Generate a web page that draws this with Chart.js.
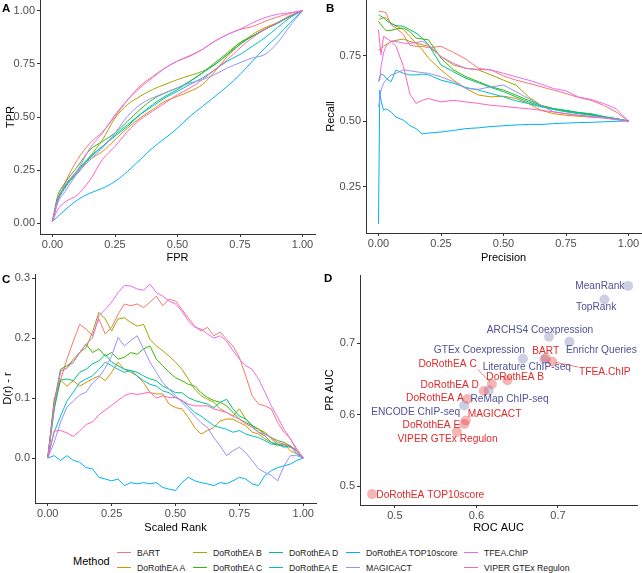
<!DOCTYPE html>
<html>
<head>
<meta charset="utf-8">
<script src="https://cdn.jsdelivr.net/npm/chart.js@4.4.1/dist/chart.umd.min.js"></script>
<style>
html,body{margin:0;padding:0;background:#fff;width:642px;height:573px;overflow:hidden;font-family:"Liberation Sans",Arial,sans-serif;}
.panel{position:absolute;width:321px;height:270px;}
.panel canvas{position:absolute;left:0;top:0;}
.tag{position:absolute;font-weight:bold;font-size:11.5px;line-height:12px;color:#000;}
.lg{position:absolute;font-size:8.7px;line-height:10px;color:#1a1a1a;white-space:nowrap;}
.lgline{position:absolute;height:0;width:14px;border-top:1px solid;}
</style>
</head>
<body>
<div class="panel" style="left:0;top:0"><canvas id="cA" width="321" height="270"></canvas></div>
<div class="panel" style="left:321px;top:0"><canvas id="cB" width="321" height="270"></canvas></div>
<div class="panel" style="left:0;top:270px"><canvas id="cC" width="321" height="270"></canvas></div>
<div class="panel" style="left:321px;top:270px"><canvas id="cD" width="321" height="270"></canvas></div>
<div class="tag" style="left:2px;top:2px">A</div>
<div class="tag" style="left:326px;top:2px">B</div>
<div class="tag" style="left:2px;top:273px">C</div>
<div class="tag" style="left:324px;top:272px">D</div>
<div id="legend"></div>
<script>
// ---------- series ----------
const seriesNames = ['BART','DoRothEA A','DoRothEA B','DoRothEA C','DoRothEA D','DoRothEA E','DoRothEA TOP10score','MAGICACT','TFEA.ChIP','VIPER GTEx Regulon'];
const seriesColors = ['#F8766D','#D89000','#A3A500','#39B600','#00BF7D','#00BFC4','#00B0F6','#9590FF','#E76BF3','#FF62BC'];

// ---------- panel A: ROC ----------
const rocFpr = [0,0.02,0.05,0.1,0.15,0.2,0.25,0.3,0.35,0.4,0.45,0.5,0.55,0.6,0.65,0.7,0.75,0.8,0.85,0.9,0.95,1.0];
const rocTpr = [
 [0.01,0.10,0.19,0.30,0.377,0.43,0.503,0.58,0.645,0.69,0.73,0.763,0.789,0.818,0.857,0.888,0.912,0.925,0.95,0.97,0.987,1.0],
 [0.01,0.11,0.173,0.236,0.299,0.338,0.393,0.448,0.495,0.535,0.574,0.597,0.621,0.653,0.715,0.786,0.841,0.888,0.92,0.943,0.975,1.0],
 [0.01,0.11,0.173,0.236,0.314,0.393,0.495,0.558,0.597,0.629,0.653,0.676,0.695,0.715,0.747,0.794,0.849,0.88,0.912,0.943,0.975,1.0],
 [0.01,0.126,0.19,0.267,0.346,0.385,0.425,0.48,0.535,0.582,0.613,0.637,0.668,0.708,0.755,0.802,0.849,0.88,0.912,0.943,0.975,1.0],
 [0.01,0.11,0.173,0.25,0.314,0.362,0.41,0.456,0.511,0.558,0.597,0.629,0.668,0.708,0.747,0.794,0.841,0.88,0.912,0.94,0.972,1.0],
 [0.01,0.10,0.165,0.244,0.307,0.362,0.417,0.464,0.511,0.55,0.59,0.621,0.653,0.684,0.723,0.763,0.794,0.833,0.873,0.92,0.967,1.0],
 [0.01,0.031,0.063,0.11,0.142,0.165,0.197,0.244,0.299,0.354,0.40,0.448,0.503,0.55,0.597,0.645,0.70,0.763,0.825,0.88,0.943,1.0],
 [0.01,0.094,0.149,0.236,0.299,0.354,0.425,0.503,0.558,0.59,0.613,0.637,0.66,0.676,0.70,0.731,0.755,0.778,0.794,0.849,0.928,1.0],
 [0.01,0.11,0.18,0.25,0.354,0.425,0.51,0.58,0.637,0.684,0.73,0.763,0.786,0.818,0.857,0.888,0.912,0.943,0.967,0.983,0.99,1.0],
 [0.01,0.063,0.10,0.134,0.204,0.30,0.362,0.432,0.487,0.527,0.566,0.605,0.637,0.676,0.723,0.77,0.825,0.873,0.912,0.943,0.975,1.0]
];
const aTicks = [0,0.25,0.5,0.75,1.0];
const aTickLabels = ['0.00','0.25','0.50','0.75','1.00'];

// ---------- panel B: precision / recall ----------
const prPrecision = [0,0.005,0.01,0.02,0.03,0.05,0.07,0.1,0.125,0.15,0.175,0.2,0.25,0.3,0.35,0.4,0.45,0.5,0.55,0.6,0.65,0.7,0.75,0.8,0.85,0.9,0.95,1.0];
const prRecall = [
 [0.919,0.919,0.917,0.917,0.913,0.868,0.855,0.83,0.79,0.785,0.785,0.78,0.785,0.762,0.736,0.701,0.695,0.672,0.656,0.644,0.631,0.618,0.605,0.59,0.579,0.56,0.535,0.5],
 [0.887,0.89,0.89,0.894,0.894,0.874,0.862,0.849,0.823,0.797,0.772,0.74,0.695,0.656,0.624,0.599,0.592,0.595,0.586,0.567,0.541,0.528,0.522,0.518,0.515,0.512,0.506,0.5],
 [0.772,0.772,0.778,0.785,0.791,0.804,0.808,0.813,0.804,0.797,0.791,0.785,0.746,0.714,0.701,0.695,0.676,0.656,0.637,0.592,0.56,0.547,0.538,0.531,0.526,0.515,0.509,0.5],
 [0.881,0.874,0.868,0.855,0.846,0.846,0.851,0.855,0.842,0.817,0.813,0.81,0.74,0.695,0.669,0.65,0.631,0.618,0.599,0.579,0.56,0.547,0.538,0.531,0.524,0.515,0.509,0.5],
 [0.906,0.903,0.9,0.894,0.885,0.872,0.864,0.862,0.849,0.836,0.817,0.791,0.714,0.688,0.663,0.646,0.628,0.612,0.592,0.573,0.556,0.547,0.541,0.533,0.528,0.518,0.509,0.5],
 [0.65,0.669,0.679,0.676,0.663,0.65,0.695,0.682,0.676,0.676,0.679,0.676,0.656,0.644,0.628,0.618,0.605,0.592,0.577,0.567,0.554,0.544,0.535,0.528,0.522,0.515,0.509,0.5],
 [0.108,0.618,0.579,0.541,0.547,0.535,0.515,0.503,0.483,0.471,0.451,0.454,0.458,0.464,0.471,0.474,0.479,0.482,0.485,0.487,0.487,0.49,0.492,0.494,0.495,0.497,0.499,0.5],
 [0.554,0.579,0.618,0.644,0.656,0.676,0.682,0.695,0.692,0.688,0.685,0.682,0.669,0.65,0.624,0.621,0.631,0.637,0.612,0.586,0.56,0.535,0.528,0.522,0.515,0.512,0.506,0.5],
 [0.656,0.656,0.708,0.76,0.785,0.804,0.804,0.797,0.797,0.8,0.804,0.79,0.746,0.72,0.701,0.697,0.695,0.682,0.669,0.656,0.641,0.624,0.615,0.592,0.582,0.567,0.547,0.5],
 [0.849,0.797,0.753,0.823,0.817,0.804,0.785,0.708,0.605,0.567,0.579,0.586,0.573,0.579,0.573,0.567,0.56,0.556,0.551,0.547,0.541,0.535,0.528,0.522,0.518,0.513,0.506,0.5]
];
const bXTicks = [0,0.25,0.5,0.75,1.0];
const bXTickLabels = ['0.00','0.25','0.50','0.75','1.00'];
const bYTicks = [0.25,0.5,0.75];
const bYTickLabels = ['0.25','0.50','0.75'];

// ---------- panel C: D(r) - r ----------
const cRank = [0,0.025,0.05,0.075,0.1,0.125,0.15,0.175,0.2,0.225,0.25,0.275,0.3,0.325,0.35,0.375,0.4,0.425,0.45,0.475,0.5,0.525,0.55,0.575,0.6,0.625,0.65,0.675,0.7,0.725,0.75,0.775,0.8,0.825,0.85,0.875,0.9,0.925,0.95,0.975,1.0];
const cDev = [
 [0,0.098,0.13,0.165,0.195,0.223,0.215,0.204,0.232,0.207,0.218,0.24,0.257,0.254,0.257,0.251,0.26,0.27,0.254,0.265,0.262,0.248,0.234,0.22,0.212,0.218,0.204,0.21,0.198,0.187,0.168,0.137,0.104,0.09,0.087,0.082,0.059,0.043,0.032,0.015,0],
 [0,0.093,0.13,0.12,0.129,0.12,0.126,0.132,0.137,0.129,0.143,0.16,0.148,0.143,0.137,0.126,0.109,0.107,0.107,0.09,0.084,0.082,0.068,0.051,0.04,0.046,0.051,0.062,0.065,0.065,0.059,0.054,0.043,0.04,0.032,0.026,0.02,0.023,0.012,0.007,0],
 [0,0.08,0.145,0.15,0.165,0.176,0.184,0.21,0.243,0.232,0.212,0.232,0.234,0.226,0.22,0.223,0.198,0.187,0.179,0.17,0.16,0.148,0.132,0.115,0.104,0.098,0.093,0.082,0.076,0.07,0.082,0.065,0.054,0.048,0.043,0.032,0.023,0.023,0.02,0.012,0],
 [0,0.093,0.148,0.154,0.16,0.176,0.19,0.176,0.182,0.17,0.176,0.165,0.168,0.176,0.173,0.182,0.187,0.165,0.154,0.143,0.134,0.129,0.123,0.12,0.109,0.101,0.096,0.093,0.087,0.076,0.065,0.059,0.054,0.048,0.04,0.034,0.029,0.026,0.02,0.012,0],
 [0,0.082,0.13,0.132,0.129,0.143,0.148,0.157,0.162,0.173,0.16,0.154,0.148,0.146,0.143,0.137,0.132,0.129,0.12,0.115,0.109,0.109,0.101,0.096,0.093,0.09,0.084,0.093,0.098,0.082,0.07,0.065,0.054,0.043,0.037,0.026,0.023,0.02,0.018,0.012,0],
 [0,0.043,0.07,0.095,0.11,0.126,0.132,0.137,0.148,0.16,0.154,0.148,0.143,0.146,0.137,0.129,0.123,0.12,0.112,0.109,0.101,0.096,0.087,0.076,0.07,0.062,0.054,0.051,0.048,0.043,0.046,0.04,0.037,0.034,0.029,0.023,0.023,0.018,0.02,0.007,0],
 [0,0.004,-0.004,0.004,-0.004,-0.007,-0.016,-0.018,-0.032,-0.035,-0.038,-0.035,-0.046,-0.041,-0.043,-0.041,-0.043,-0.041,-0.049,-0.052,-0.054,-0.041,-0.032,-0.038,-0.041,-0.043,-0.046,-0.041,-0.043,-0.038,-0.032,-0.035,-0.043,-0.046,-0.029,-0.021,-0.016,-0.013,-0.01,-0.004,0],
 [0,0.026,0.06,0.085,0.095,0.105,0.11,0.125,0.135,0.15,0.17,0.201,0.187,0.196,0.204,0.182,0.16,0.143,0.126,0.115,0.104,0.093,0.082,0.07,0.059,0.051,0.034,0.02,0.004,0.012,0.018,0.009,-0.004,-0.018,-0.024,-0.029,-0.038,-0.013,0.004,0.004,0],
 [0,0.09,0.145,0.15,0.16,0.176,0.19,0.2,0.237,0.248,0.26,0.276,0.288,0.287,0.282,0.28,0.29,0.276,0.27,0.262,0.257,0.245,0.229,0.218,0.215,0.207,0.2,0.204,0.195,0.179,0.165,0.154,0.148,0.132,0.11,0.087,0.068,0.048,0.032,0.012,0],
 [0,0.045,0.046,0.042,0.036,0.045,0.056,0.06,0.072,0.08,0.088,0.096,0.104,0.108,0.106,0.108,0.11,0.1,0.104,0.101,0.101,0.096,0.09,0.087,0.087,0.087,0.082,0.079,0.076,0.07,0.065,0.057,0.051,0.043,0.04,0.034,0.026,0.023,0.018,0.012,0]
];
const cXTicks = [0,0.25,0.5,0.75,1.0];
const cXTickLabels = ['0.00','0.25','0.50','0.75','1.00'];
const cYTicks = [0,0.1,0.2,0.3];
const cYTickLabels = ['0.0','0.1','0.2','0.3'];

// ---------- panel D: ROC AUC vs PR AUC ----------
const dNames = ['MeanRank','TopRank','ARCHS4 Coexpression','Enrichr Queries','GTEx Coexpression','Literature ChIP-seq','ReMap ChIP-seq','ENCODE ChIP-seq','BART','TFEA.ChIP','DoRothEA C','DoRothEA B','DoRothEA D','DoRothEA A','MAGICACT','DoRothEA E','VIPER GTEx Regulon','DoRothEA TOP10score'];
const dRoc = [0.786,0.757,0.689,0.714,0.657,0.683,0.615,0.585,0.685,0.693,0.619,0.638,0.609,0.589,0.587,0.585,0.576,0.472];
const dPr  = [0.780,0.761,0.709,0.702,0.678,0.677,0.634,0.613,0.679,0.674,0.643,0.648,0.633,0.622,0.592,0.587,0.576,0.489];
const dGroup = ['ChEA3','ChEA3','ChEA3','ChEA3','ChEA3','ChEA3','ChEA3','ChEA3','Other','Other','Other','Other','Other','Other','Other','Other','Other','Other'];
const dXTicks = [0.5,0.6,0.7];
const dXTickLabels = ['0.5','0.6','0.7'];
const dYTicks = [0.5,0.6,0.7];
const dYTickLabels = ['0.5','0.6','0.7'];

// ---------- layout / styling (not data) ----------
const labelOffsets = [[-28.3,0.6],[-8.3,7.6],[-9,-6.3],[32,8.3],[-43.5,-8.4],[-17.3,8],[20.9,8.4],[-48.6,6.7],[0,-6.7],[52.6,10],[-44.3,-20],[7.8,-3],[-34,-6.3],[-32.5,-1],[28.7,-6],[-32.8,1.3],[-9.3,7.3],[58.2,1.4]];
const groupText = {ChEA3:'#4F5198', Other:'#E0292B'};
const groupPoint = {ChEA3:'rgba(120,126,185,0.38)', Other:'rgba(232,60,60,0.38)'};
const FONT = '"Liberation Sans", Arial, sans-serif';
Chart.defaults.font.family = FONT;
Chart.defaults.font.weight = 'normal';

function axes(o){
  const mk = (axis) => {
    const isX = axis === 'x';
    const t = isX ? o.xt : o.yt, l = isX ? o.xl : o.yl;
    return {
      type:'linear', min: isX?o.xmin:o.ymin, max: isX?o.xmax:o.ymax,
      afterBuildTicks: s => { s.ticks = t.map(v => ({value:v})); },
      afterFit: s => {
        if (isX) s.height = o.H - o.bottom; else s.width = o.left;
        s.paddingLeft = 0; s.paddingRight = 0; s.paddingTop = 0; s.paddingBottom = 0;
      },
      ticks:{ callback:(v,i)=>l[i], color:'#4D4D4D', font:{size:11, weight:'normal'}, padding: isX?1:2, maxRotation:0, autoSkip:false },
      grid:{ display:true, drawOnChartArea:false, drawTicks:true, tickLength:3, color:'#333', lineWidth:1 },
      border:{ display:true, color:'#333', width:1 },
      title:{ display:true, text: isX?o.xtitle:o.ytitle, color:'#000', font:{size:11, weight:'normal'}, padding: isX?{top:0,bottom:5}:{top:o.ytpad,bottom:0} }
    };
  };
  return { x: mk('x'), y: mk('y') };
}
function baseOpts(o){
  return {
    responsive:false, animation:false, devicePixelRatio: window.devicePixelRatio || 1,
    layout:{ padding:{ left:0, top:o.top, right:o.W - o.right, bottom:0 } },
    plugins:{ legend:{display:false}, tooltip:{enabled:false} },
    scales: axes(o)
  };
}
function lineSets(xs, ys, tension){
  return ys.map((vals,i)=>({
    label: seriesNames[i],
    data: xs.map((x,j)=>({x:x, y:vals[j]})),
    borderColor: seriesColors[i], borderWidth: 1, pointRadius: 0, fill:false,
    tension: tension, cubicInterpolationMode: tension>0 ? 'monotone' : 'default',
    order: seriesNames.length - i
  }));
}

// Panel A
new Chart(document.getElementById('cA'), {
  type:'line',
  data:{ datasets: lineSets(rocFpr, rocTpr, 0.4) },
  options: baseOpts({W:321,H:270,left:40,right:315,top:0,bottom:234,xmin:-0.05,xmax:1.05,ymin:-0.05,ymax:1.05,
    xt:aTicks,xl:aTickLabels,yt:aTicks,yl:aTickLabels,xtitle:'FPR',ytitle:'TPR',ytpad:4})
});
// Panel B
new Chart(document.getElementById('cB'), {
  type:'line',
  data:{ datasets: lineSets(prPrecision, prRecall, 0) },
  options: baseOpts({W:321,H:270,left:45,right:320,top:0,bottom:233,xmin:-0.05,xmax:1.05,ymin:0.0725,ymax:0.962,
    xt:bXTicks,xl:bXTickLabels,yt:bYTicks,yl:bYTickLabels,xtitle:'Precision',ytitle:'Recall',ytpad:3})
});
// Panel C
new Chart(document.getElementById('cC'), {
  type:'line',
  data:{ datasets: lineSets(cRank, cDev, 0) },
  options: baseOpts({W:321,H:270,left:35,right:316,top:4,bottom:233,xmin:-0.05,xmax:1.05,ymin:-0.075,ymax:0.307,
    xt:cXTicks,xl:cXTickLabels,yt:cYTicks,yl:cYTickLabels,xtitle:'Scaled Rank',ytitle:'D(r) - r',ytpad:1})
});
// Panel D
const labelPlugin = {
  id:'repelLabels',
  afterDatasetsDraw(chart){
    const ctx = chart.ctx, meta = chart.getDatasetMeta(0);
    ctx.save();
    ctx.font = '10.2px ' + FONT;
    ctx.textAlign = 'center'; ctx.textBaseline = 'middle';
    meta.data.forEach((el,i)=>{
      const col = groupText[dGroup[i]];
      const cx = el.x + labelOffsets[i][0], cy = el.y + labelOffsets[i][1];
      const w = ctx.measureText(dNames[i]).width, h = 9;
      const nx = Math.max(cx - w/2, Math.min(el.x, cx + w/2));
      const ny = Math.max(cy - h/2, Math.min(el.y, cy + h/2));
      const d = Math.hypot(el.x - nx, el.y - ny);
      if (d > 9) {
        const ux = (nx - el.x)/d, uy = (ny - el.y)/d;
        ctx.strokeStyle = col; ctx.lineWidth = 0.6;
        ctx.beginPath(); ctx.moveTo(el.x + ux*3, el.y + uy*3); ctx.lineTo(nx - ux*1, ny - uy*1); ctx.stroke();
      }
      ctx.fillStyle = col;
      ctx.fillText(dNames[i], cx, cy);
    });
    ctx.restore();
  }
};
new Chart(document.getElementById('cD'), {
  type:'scatter',
  data:{ datasets:[{
    data: dRoc.map((x,i)=>({x:x, y:dPr[i]})),
    backgroundColor: dGroup.map(g=>groupPoint[g]), borderWidth:0, pointRadius:5, pointHoverRadius:5
  }]},
  options: baseOpts({W:321,H:270,left:39,right:317,top:2,bottom:235,xmin:0.4572,xmax:0.7969,ymin:0.4738,ymax:0.7952,
    xt:dXTicks,xl:dXTickLabels,yt:dYTicks,yl:dYTickLabels,xtitle:'ROC AUC',ytitle:'PR AUC',ytpad:2}),
  plugins:[labelPlugin]
});

// Legend (HTML)
(function(){
  const lg = document.getElementById('legend');
  const colX = [117,193,269,346,464];
  const rowY = [553,568];
  const title = document.createElement('div');
  title.className = 'lg'; title.textContent = 'Method';
  title.style.cssText = 'left:73px;top:554px;font-size:11px;line-height:14px;color:#000;';
  lg.appendChild(title);
  seriesNames.forEach((n,i)=>{
    const c = Math.floor(i/2), r = i%2;
    const ln = document.createElement('div');
    ln.className = 'lgline';
    ln.style.left = colX[c] + 'px'; ln.style.top = (rowY[r]-1) + 'px';
    ln.style.borderTopColor = seriesColors[i];
    lg.appendChild(ln);
    const tx = document.createElement('div');
    tx.className = 'lg'; tx.textContent = n;
    tx.style.left = (colX[c] + 20) + 'px'; tx.style.top = (rowY[r] - 5) + 'px';
    lg.appendChild(tx);
  });
})();
</script>
</body>
</html>
